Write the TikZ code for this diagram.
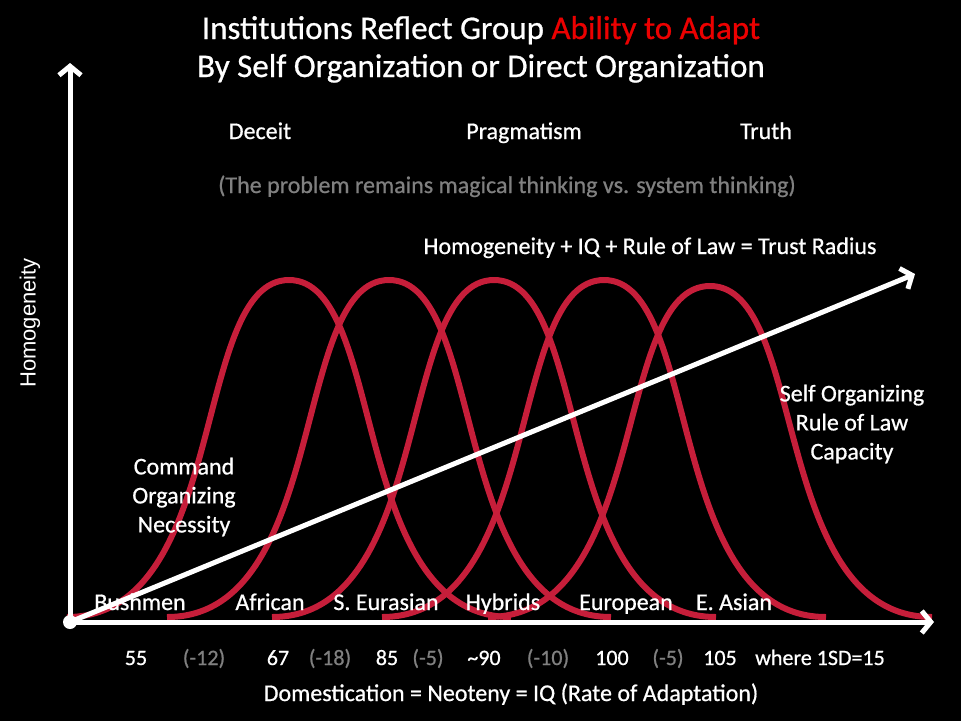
\documentclass[tikz,border=0pt]{standalone}
\usepackage{fontspec}
\setmainfont{Carlito}[FakeBold=0.7]
\newfontfamily\axisfont{Liberation Sans}
\usetikzlibrary{arrows.meta}
\definecolor{bellred}{RGB}{198,30,58}
\definecolor{titlered}{RGB}{236,0,0}
\definecolor{notegray}{RGB}{128,128,128}
\def\bell#1#2{\draw[bellline] ({#1-222},617) .. controls ({#1-60},617) and ({#1-98},#2) .. (#1,#2) .. controls ({#1+98},#2) and ({#1+60},617) .. ({#1+222},617);}
\tikzset{
	bellline/.style={bellred, line width=6pt, line join=round},
	axisline/.style={white, line width=5pt, -{Straight Barb[length=9pt,width=22pt]}},
	title/.style={text=white, font=\fontsize{33}{38}\selectfont, inner sep=0pt, anchor=base},
	lbl/.style={text=white, font=\fontsize{24}{29}\selectfont, align=center, inner sep=0pt},
	word/.style={lbl, anchor=base},
	num/.style={text=white, font=\fontsize{22}{26}\selectfont, inner sep=0pt, anchor=base},
	neg/.style={num, text=notegray}
}
\begin{document}
\begin{tikzpicture}[x=1pt,y=-1pt]
		%%%%% START %%%%%
		\fill[black] (0,0) rectangle (961,721);
		\useasboundingbox (0,0) rectangle (961,721);
		
		\node[title] (head1) at (481,39) {Institutions Reflect Group \textcolor{titlered}{Ability to Adapt}};
		\node[title] (head2) at (481,77) {By Self Organization or Direct Organization};
		
		\node[word] (deceit) at (260,139) {Deceit};
		\node[word] (pragma) at (524,139) {Pragmatism};
		\node[word] (truth) at (766,139) {Truth};
		\node[word, text=notegray] (problem) at (507,193) {(The problem remains magical thinking vs. system thinking)};
		\node[word] (radius) at (650,254) {Homogeneity + IQ + Rule of Law = Trust Radius};
		
		% bell curves
		\bell{289}{280}
		\bell{389}{280}
		\bell{494}{280}
		\bell{604}{280}
		\bell{710}{286}
		
		% axes
		\coordinate (origin) at (70,622);
		\coordinate (ytip) at (70,63);
		\coordinate (xtip) at (934,622);
		\coordinate (trusttip) at (915,274);
		\draw[axisline] (origin) -- (ytip);
		\draw[axisline] (origin) -- (xtip);
		\draw[axisline] (origin) -- (trusttip);
		\fill[white] (origin) circle (7);
		
		\node[text=white, font=\axisfont\fontsize{22}{26}\selectfont, rotate=90, inner sep=0pt] (homog) at (30,323) {Homogeneity};
		
		\node[lbl] (command) at (184,497) {Command\\Organizing\\Necessity};
		\node[lbl] (selforg) at (852,424) {Self Organizing\\Rule of Law\\Capacity};
		
		\node[word] (bushmen) at (140,610) {Bushmen};
		\node[word] (african) at (270,610) {African};
		\node[word] (eurasian) at (386,610) {S. Eurasian};
		\node[word] (hybrids) at (503,610) {Hybrids};
		\node[word] (european) at (626,610) {European};
		\node[word] (easian) at (734,610) {E. Asian};
		
		\node[num] (iq55) at (136,665) {55};
		\node[neg] (gap12) at (204,665) {(-12)};
		\node[num] (iq67) at (278,665) {67};
		\node[neg] (gap18) at (330,665) {(-18)};
		\node[num] (iq85) at (387,665) {85};
		\node[neg] (gap5a) at (428,665) {(-5)};
		\node[num] (iq90) at (484,665) {\textasciitilde 90};
		\node[neg] (gap10) at (548,665) {(-10)};
		\node[num] (iq100) at (612,665) {100};
		\node[neg] (gap5b) at (668,665) {(-5)};
		\node[num] (iq105) at (720,665) {105};
		\node[num] (sdnote) at (820,665) {where 1SD=15};
		
		\node[word] (caption) at (511,701) {Domestication = Neoteny = IQ (Rate of Adaptation)};
		%%%%% END %%%%%
\end{tikzpicture}
\end{document}
